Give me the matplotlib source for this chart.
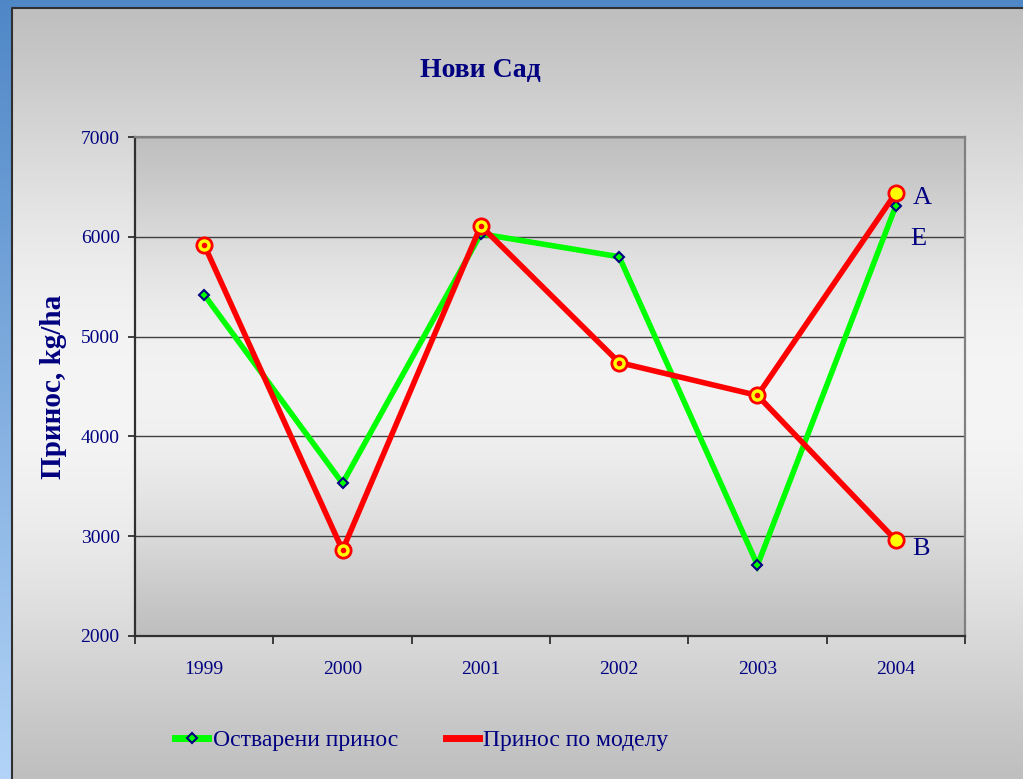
import numpy as np
import matplotlib
matplotlib.use('Agg')
import matplotlib.pyplot as plt
from matplotlib.lines import Line2D

# Data
years = ['1999', '2000', '2001', '2002', '2003', '2004']
actual = [5420, 3530, 6030, 5800, 2710, 6310]      # Остварени принос
model = [5920, 2860, 6110, 4740, 4410, 6440]       # Принос по моделу (branch A)
model_b_2004 = 2960                                # branch B in 2004
point_labels = ['A', 'E', 'B']
point_values = [6440, 6310, 2960]

navy = '#000080'
plt.rcParams['font.family'] = ['Liberation Serif', 'DejaVu Serif']

W, H = 1023, 779
fig = plt.figure(figsize=(W / 100, H / 100), dpi=100)

# background: blue gradient + gray panel
bg = fig.add_axes([0, 0, 1, 1])
bg.set_xlim(0, W)
bg.set_ylim(H, 0)
bg.axis('off')
t = np.linspace(0, 1, 256)[:, None]
blue_top = np.array([0.31, 0.53, 0.78])
blue_bot = np.array([0.70, 0.83, 0.97])
blue = blue_top + (blue_bot - blue_top) * t[..., None]
bg.imshow(np.repeat(blue, 2, axis=1), extent=(0, W, H, 0), aspect='auto', zorder=0)
g = 0.75 + 0.21 * np.sin(np.pi * t) ** 1.2
bg.imshow(np.repeat(np.dstack([g, g, g]), 2, axis=1), extent=(12, W, H, 8), aspect='auto', zorder=1)
bg.plot([12, 12, W], [H, 8, 8], color='#303030', lw=1.5, zorder=2)

# plot area
ax = fig.add_axes([135 / W, 143 / H, 830 / W, 499 / H])
ax.set_facecolor('none')
x = np.arange(len(years))
ax.set_xlim(-0.5, len(years) - 0.5)
ax.set_ylim(2000, 7000)

gp = 0.75 + 0.20 * np.sin(np.pi * t) ** 1.2
ax.imshow(np.repeat(np.dstack([gp, gp, gp]), 2, axis=1), extent=(0, 1, 0, 1),
          transform=ax.transAxes, aspect='auto', zorder=0)

ax.set_yticks(np.arange(2000, 7001, 1000))
ax.yaxis.grid(True, color='#404040', lw=1, zorder=1)
ax.set_axisbelow(True)
ax.set_xticks(x)
ax.set_xticklabels(years)
ax.set_xticks(np.arange(-0.5, len(years), 1), minor=True)
ax.tick_params(axis='x', which='major', length=0, pad=18, labelsize=14, labelcolor=navy)
ax.tick_params(axis='x', which='minor', length=6, width=1.2, color='#202020')
ax.tick_params(axis='y', length=5, width=1.2, color='#202020', pad=6, labelsize=14, labelcolor=navy)

for s in ['left', 'bottom']:
    ax.spines[s].set_color('#303030')
    ax.spines[s].set_linewidth(1.6)
for s in ['top', 'right']:
    ax.spines[s].set_color('#808080')
    ax.spines[s].set_linewidth(1.6)

# series
ax.plot(x, actual, color='#00ff00', lw=4, marker='D', ms=5, mfc='#00ff00',
        mec=navy, mew=1.5, zorder=3, solid_joinstyle='miter')
ax.plot(x, model, color='#ff0000', lw=4, zorder=4)
ax.plot([x[4], x[5]], [model[4], model_b_2004], color='#ff0000', lw=4, zorder=4)
ax.plot(list(x) + [x[5]], model + [model_b_2004], ls='none', marker='o', ms=11,
        mfc='#ffff00', mec='#ff0000', mew=2, zorder=5)
ax.plot(x[:5], model[:5], ls='none', marker='o', ms=3, color='#ff0000', zorder=6)

# A / E / B labels, offset in points from their 2004 markers
offsets = {'A': (12, -4), 'E': (10, -24), 'B': (12, -6)}
for lab, val in zip(point_labels, point_values):
    ax.annotate(lab, (x[5], val), xytext=offsets[lab], textcoords='offset points',
                fontsize=19, color=navy, va='center', ha='left', zorder=6)

ax.set_ylabel('Принос, kg/ha', fontsize=21, fontweight='bold', color=navy, labelpad=10)
fig.text(480 / W, 1 - 70 / H, 'Нови Сад', fontsize=20, fontweight='bold', color=navy,
         ha='center', va='center')

handles = [
    Line2D([], [], color='#00ff00', lw=5, marker='D', ms=5, mfc='#00ff00', mec=navy, mew=1.5),
    Line2D([], [], color='#ff0000', lw=5),
]
fig.legend(handles, ['Остварени принос', 'Принос по моделу'], loc='center',
           bbox_to_anchor=(422 / W, 1 - 740 / H), ncol=2, frameon=False,
           prop={'size': 17}, labelcolor=navy, handlelength=1.4, handletextpad=0.2,
           columnspacing=2.0)

fig.savefig('out.png', dpi=100)
